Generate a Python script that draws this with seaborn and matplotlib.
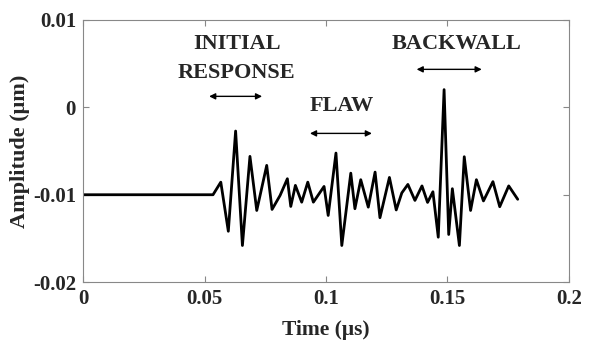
import numpy as np
import pandas as pd
import matplotlib
matplotlib.use('Agg')
import matplotlib.pyplot as plt
import seaborn as sns

# waveform (peaks and troughs)
time_us = [0.0, 0.0535, 0.0567, 0.0598, 0.0628, 0.0656, 0.0687, 0.0715, 0.0756, 0.0778,
           0.0811, 0.0841, 0.0855, 0.0874, 0.0900, 0.0925, 0.0948, 0.0992, 0.1009, 0.1041,
           0.1065, 0.1102, 0.1119, 0.1143, 0.1174, 0.1202, 0.1222, 0.1261, 0.1289, 0.1312,
           0.1337, 0.1366, 0.1395, 0.1418, 0.1440, 0.1462, 0.1486, 0.1505, 0.1520, 0.1549,
           0.1569, 0.1595, 0.1619, 0.1648, 0.1687, 0.1715, 0.1752, 0.1789]
amp_um = [-0.0100, -0.0100, -0.00856, -0.01418, -0.00271, -0.01581, -0.00561, -0.01180, -0.00664, -0.01168,
          -0.01008, -0.00817, -0.01134, -0.00893, -0.01085, -0.00856, -0.01085, -0.00905, -0.01237, -0.00523,
          -0.01581, -0.00753, -0.01160, -0.00828, -0.01142, -0.00741, -0.01263, -0.00802, -0.01174, -0.00979,
          -0.00882, -0.01065, -0.00899, -0.01088, -0.00966, -0.01486, 0.00203, -0.01455, -0.00931, -0.01581,
          -0.00565, -0.01180, -0.00828, -0.01071, -0.00850, -0.01137, -0.00899, -0.01052]

xticks = [0, 0.05, 0.1, 0.15, 0.2]
xtick_labels = ['0', '0.05', '0.1', '0.15', '0.2']
yticks = [-0.02, -0.01, 0, 0.01]
ytick_labels = ['-0.02', '-0.01', '0', '0.01']

df = pd.DataFrame({'Time': time_us, 'Amplitude': amp_um})

sns.set_style('ticks')
plt.rcParams['font.family'] = ['Liberation Serif', 'DejaVu Serif']
plt.rcParams['font.weight'] = 'bold'

fig = plt.figure(figsize=(5.93, 3.47), dpi=100)
ax = fig.add_axes([0.140, 0.187, 0.8195, 0.7554])

sns.lineplot(data=df, x='Time', y='Amplitude', color='black', linewidth=2.0, ax=ax, sort=False,
             solid_joinstyle='round', solid_capstyle='round')

ax.set_xlim(0, 0.2)
ax.set_ylim(-0.02, 0.01)
ax.set_xticks(xticks)
ax.set_xticklabels(xtick_labels)
ax.set_yticks(yticks)
ax.set_yticklabels(ytick_labels)
ax.tick_params(direction='in', length=4, width=0.8, color='#888888', top=True, right=True,
               labelsize=15, pad=5)
for lab in ax.get_xticklabels() + ax.get_yticklabels():
    lab.set_fontweight('bold')
for sp in ax.spines.values():
    sp.set_color('#888888')
    sp.set_linewidth(0.8)

ax.set_xlabel('Time (\u03bcs)', fontsize=15.5, fontweight='bold', labelpad=8)
ax.set_ylabel('Amplitude (\u03bcm)', fontsize=16, fontweight='bold', labelpad=2)

# labels and arrows
txt = dict(fontsize=16, fontweight='bold', ha='center', va='center')
ax.text(0.0633, 0.00722, 'INITIAL', **txt)
ax.text(0.0633, 0.00389, 'RESPONSE', **txt)
ax.text(0.1538, 0.00722, 'BACKWALL', **txt)
ax.text(0.1066, 0.0001, 'FLAW', **txt)
arr = dict(arrowstyle='<|-|>', color='black', lw=1.0, mutation_scale=9, shrinkA=0, shrinkB=0)
ax.annotate('', xy=(0.0737, 0.00126), xytext=(0.0519, 0.00126), arrowprops=arr)
ax.annotate('', xy=(0.1641, 0.00435), xytext=(0.1373, 0.00435), arrowprops=arr)
ax.annotate('', xy=(0.1189, -0.00298), xytext=(0.0934, -0.00298), arrowprops=arr)

fig.savefig('out.png', dpi=100)
